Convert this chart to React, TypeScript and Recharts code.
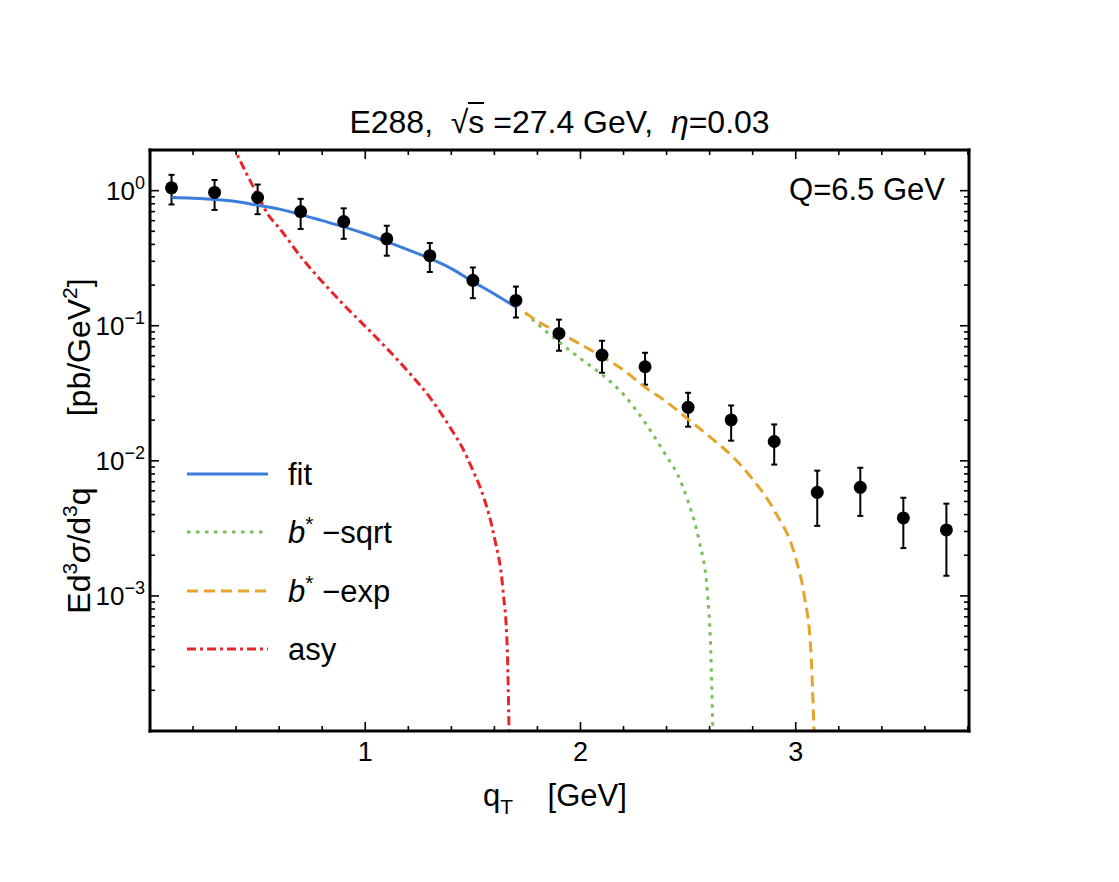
import { ComposedChart, Line, Scatter, ErrorBar, XAxis, YAxis } from 'recharts'

const FONT = '"Liberation Sans", Arial, Helvetica, sans-serif'

// E288 data points (qT in GeV, cross section in pb/GeV^2)
const qT = [0.1, 0.3, 0.5, 0.7, 0.9, 1.1, 1.3, 1.5, 1.7, 1.9, 2.1, 2.3, 2.5, 2.7, 2.9, 3.1, 3.3, 3.5, 3.7]
const sigma = [1.05, 0.97, 0.89, 0.70, 0.59, 0.44, 0.33, 0.217, 0.154, 0.0877, 0.0607, 0.0497, 0.0249, 0.0201, 0.0139, 0.00585, 0.00637, 0.00378, 0.00308]
const sigmaLo = [0.79, 0.72, 0.67, 0.52, 0.44, 0.33, 0.25, 0.16, 0.115, 0.0653, 0.0449, 0.0366, 0.0179, 0.0141, 0.00938, 0.0033, 0.00391, 0.00226, 0.00141]
const sigmaHi = [1.31, 1.20, 1.11, 0.87, 0.74, 0.55, 0.41, 0.27, 0.195, 0.111, 0.0774, 0.0631, 0.0319, 0.0257, 0.0186, 0.00846, 0.00889, 0.00533, 0.00482]

// curves
const fitQ = [0.1, 0.2, 0.3, 0.4, 0.5, 0.6, 0.7, 0.8, 0.9, 1.0, 1.1, 1.2, 1.3, 1.4, 1.5, 1.6, 1.7]
const fitVal = [0.89, 0.88, 0.86, 0.83, 0.78, 0.73, 0.665, 0.60, 0.54, 0.48, 0.42, 0.365, 0.315, 0.265, 0.212, 0.172, 0.137]

const sqrtQ = [1.743, 1.8, 1.9, 2.0, 2.1, 2.2, 2.3, 2.4, 2.45, 2.5, 2.55, 2.59, 2.605, 2.615]
const sqrtVal = [0.125, 0.103, 0.076, 0.057, 0.0435, 0.031, 0.0192, 0.0108, 0.008, 0.005, 0.0026, 0.00105, 0.0004, 0.0001]

const expQ = [1.743, 1.8, 1.9, 2.0, 2.1, 2.2, 2.3, 2.4, 2.5, 2.6, 2.7, 2.8, 2.9, 3.0, 3.04, 3.07, 3.085]
const expVal = [0.125, 0.108, 0.089, 0.073, 0.059, 0.047, 0.035, 0.0273, 0.0203, 0.0151, 0.011, 0.0073, 0.0043, 0.0019, 0.001, 0.0004, 0.0001]

const asyQ = [0.38, 0.45, 0.5, 0.55, 0.6, 0.7, 0.8, 0.9, 1.0, 1.1, 1.2, 1.3, 1.4, 1.45, 1.5, 1.55, 1.6, 1.64, 1.66, 1.668]
const asyVal = [2.25, 1.32, 0.93, 0.66, 0.53, 0.325, 0.212, 0.143, 0.099, 0.068, 0.0457, 0.0295, 0.0171, 0.0126, 0.0085, 0.0054, 0.0027, 0.0011, 0.0004, 0.0001]

// axes
const X_TICKS = [0.2, 0.4, 0.6, 0.8, 1, 1.2, 1.4, 1.6, 1.8, 2, 2.2, 2.4, 2.6, 2.8, 3, 3.2, 3.4, 3.6, 3.8]
const X_MAJOR = [1, 2, 3]
const X_LABELS = ['1', '2', '3']
const Y_MAJOR = [1, 0.1, 0.01, 0.001]
const Y_EXP = ['0', '\u22121', '\u22122', '\u22123']
const Y_DECADES = [1e-4, 1e-3, 1e-2, 1e-1]
const Y_MINOR = Y_DECADES.flatMap(d => [2, 3, 4, 5, 6, 7, 8, 9].map(k => k * d))
const Y_TICKS = [...Y_MAJOR, ...Y_MINOR]

const BLUE = '#3b7ddb'
const GREEN = '#7bbf5b'
const ORANGE = '#e6a52a'
const RED = '#e8262a'

const points = qT.map((x, i) => ({ x, y: sigma[i], err: [sigma[i] - sigmaLo[i], sigmaHi[i] - sigma[i]] }))
const toXY = (xs: number[], ys: number[]) => xs.map((x, i) => ({ x, y: ys[i] }))
const fitData = toXY(fitQ, fitVal)
const sqrtData = toXY(sqrtQ, sqrtVal)
const expData = toXY(expQ, expVal)
const asyData = toXY(asyQ, asyVal)

const yMajorIdx = (v: number) => Y_MAJOR.findIndex(m => Math.abs(v / m - 1) < 1e-6)

const BottomTick = ({ x, y, payload }: any) => {
  const i = X_MAJOR.indexOf(payload.value)
  return (
    <g>
      <line x1={x} y1={y} x2={x} y2={y - (i >= 0 ? 9 : 5)} stroke="#000" strokeWidth={1.6} />
      {i >= 0 && (
        <text x={x} y={y + 30} textAnchor="middle" fontSize={27} fontFamily={FONT} fill="#000">{X_LABELS[i]}</text>
      )}
    </g>
  )
}

const TopTick = ({ x, y, payload }: any) => {
  const major = X_MAJOR.includes(payload.value)
  return <line x1={x} y1={y} x2={x} y2={y + (major ? 9 : 5)} stroke="#000" strokeWidth={1.6} />
}

const LeftTick = ({ x, y, payload }: any) => {
  const i = yMajorIdx(payload.value)
  return (
    <g>
      <line x1={x} y1={y} x2={x + (i >= 0 ? 9 : 5)} y2={y} stroke="#000" strokeWidth={1.6} />
      {i >= 0 && (
        <text x={x - 5} y={y + 9} textAnchor="end" fontSize={26} fontFamily={FONT} fill="#000">
          10<tspan dy={-11} fontSize={18}>{Y_EXP[i]}</tspan>
        </text>
      )}
    </g>
  )
}

const RightTick = ({ x, y, payload }: any) => {
  const major = yMajorIdx(payload.value) >= 0
  return <line x1={x} y1={y} x2={x - (major ? 9 : 5)} y2={y} stroke="#000" strokeWidth={1.6} />
}

const frame = { stroke: '#000', strokeWidth: 3, strokeLinecap: 'square' as const }

const legendRows = [
  { label: 'fit', color: BLUE, dash: undefined },
  { label: 'sqrt', color: GREEN, dash: '3.5 5.5' },
  { label: 'exp', color: ORANGE, dash: '11 6' },
  { label: 'asy', color: RED, dash: '9 4 3 4' },
]
const legendY = [474, 532, 591, 649]

export default function App() {
  return (
    <div style={{ position: 'absolute', left: 0, top: 0, width: 1119, height: 882, background: '#fff' }}>
      <ComposedChart width={1119} height={882} margin={{ top: 140, right: 140, bottom: 91, left: 80 }}>
        <XAxis type="number" dataKey="x" domain={[0, 3.805]} allowDataOverflow ticks={X_TICKS} interval={0}
          height={60} tickSize={0} tickMargin={0} axisLine={frame} tickLine={false} tick={BottomTick} />
        <XAxis xAxisId="t" orientation="top" type="number" dataKey="x" domain={[0, 3.805]} allowDataOverflow ticks={X_TICKS} interval={0}
          height={10} tickSize={0} tickMargin={0} axisLine={frame} tickLine={false} tick={TopTick} />
        <YAxis type="number" scale="log" domain={[1e-4, 2]} allowDataOverflow ticks={Y_TICKS} interval={0}
          width={70} tickSize={0} tickMargin={0} axisLine={frame} tickLine={false} tick={LeftTick} />
        <YAxis yAxisId="r" orientation="right" type="number" scale="log" domain={[1e-4, 2]} allowDataOverflow ticks={Y_TICKS} interval={0}
          width={10} tickSize={0} tickMargin={0} axisLine={frame} tickLine={false} tick={RightTick} />

        <Scatter data={points} dataKey="y" fill="#000" isAnimationActive={false}
          shape={(p: any) => <circle cx={p.cx} cy={p.cy} r={6.5} fill="#000" />}>
          <ErrorBar dataKey="err" direction="y" width={3} stroke="#000" strokeWidth={2} isAnimationActive={false} />
        </Scatter>

        <Line data={fitData} dataKey="y" type="monotone" stroke={BLUE} strokeWidth={3} dot={false} isAnimationActive={false} />
        <Line data={sqrtData} dataKey="y" type="monotone" stroke={GREEN} strokeWidth={3} strokeDasharray="3.5 5.5" dot={false} isAnimationActive={false} />
        <Line data={expData} dataKey="y" type="monotone" stroke={ORANGE} strokeWidth={3} strokeDasharray="11 6" dot={false} isAnimationActive={false} />
        <Line data={asyData} dataKey="y" type="monotone" stroke={RED} strokeWidth={3} strokeDasharray="9 4 3 4" dot={false} isAnimationActive={false} />
      </ComposedChart>

      {/* title */}
      <div style={{ position: 'absolute', left: 0, top: 104, width: 1119, textAlign: 'center', fontFamily: FONT, fontSize: 32, lineHeight: '36px', whiteSpace: 'pre', color: '#000' }}>
        E288,  √<span style={{ borderTop: '2px solid #000' }}>s</span> =27.4 GeV,  <i>η</i>=0.03
      </div>

      <svg width={1119} height={882} style={{ position: 'absolute', left: 0, top: 0, pointerEvents: 'none' }}>
        <text x={945} y={200} textAnchor="end" fontSize={31} fontFamily={FONT}>Q=6.5 GeV</text>

        <text x={555} y={806} textAnchor="middle" fontSize={31} fontFamily={FONT} style={{ whiteSpace: 'pre' }}>
          q<tspan dy={8} fontSize={21}>T</tspan><tspan dy={-8}>{'    [GeV]'}</tspan>
        </text>

        <text transform="translate(90,446) rotate(-90)" textAnchor="middle" fontSize={32} fontFamily={FONT} style={{ whiteSpace: 'pre' }}>
          Ed<tspan dy={-13} fontSize={21}>3</tspan><tspan dy={13} fontStyle="italic">σ</tspan>/d<tspan dy={-13} fontSize={21}>3</tspan><tspan dy={13}>{'q        [pb/GeV'}</tspan><tspan dy={-13} fontSize={21}>2</tspan><tspan dy={13}>]</tspan>
        </text>

        {legendRows.map((r, i) => (
          <g key={r.label}>
            <line x1={187} x2={268} y1={legendY[i]} y2={legendY[i]} stroke={r.color} strokeWidth={3} strokeDasharray={r.dash} />
            <text x={288} y={legendY[i] + 11} fontSize={31} fontFamily={FONT}>
              {i === 0 || i === 3 ? r.label : (
                <>
                  <tspan fontStyle="italic">b</tspan><tspan dy={-12} fontSize={21}>*</tspan><tspan dy={12}>{' \u2212' + r.label}</tspan>
                </>
              )}
            </text>
          </g>
        ))}
      </svg>
    </div>
  )
}
